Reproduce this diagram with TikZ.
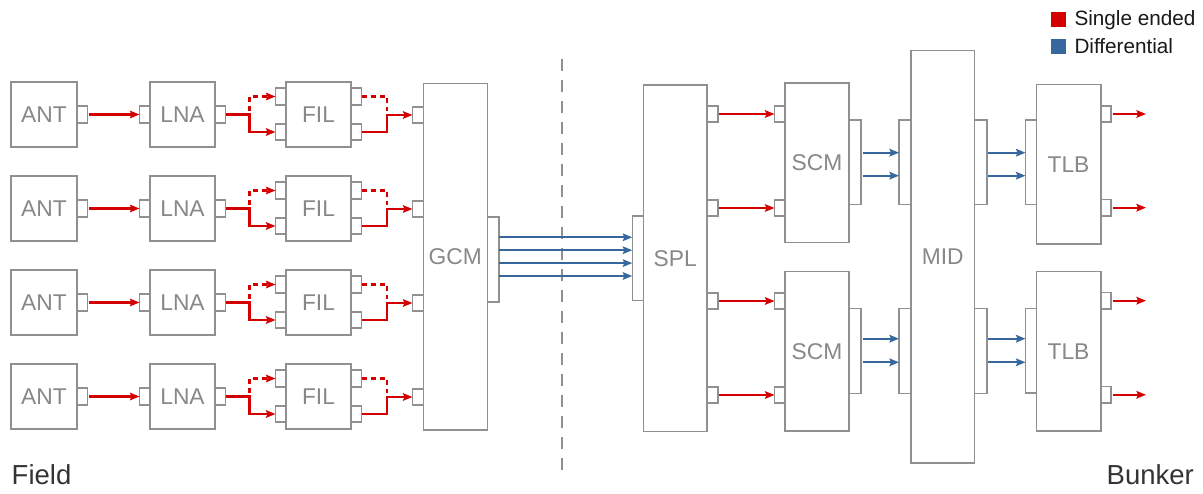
\documentclass[tikz,border=0pt]{standalone}
\usepackage{fontspec}
\setmainfont{Liberation Sans}
\usetikzlibrary{arrows.meta,calc}
\definecolor{sered}{HTML}{D40000}
\definecolor{dfblue}{HTML}{36689E}
\definecolor{boxgray}{HTML}{909090}
\definecolor{txtgray}{HTML}{888888}
\definecolor{dark}{HTML}{333333}
\begin{document}
\begin{tikzpicture}[x=1pt,y=-1pt,
  blk/.style={draw=boxgray, line width=1.6pt, fill=white, inner sep=0pt, outer sep=0pt,
    text=txtgray, font=\fontsize{22.8}{24}\selectfont},
  prt/.style={draw=boxgray, line width=1.6pt, fill=white, inner sep=0pt, outer sep=0pt,
    minimum width=10.5pt, minimum height=16.5pt},
  wprt/.style={draw=boxgray, line width=1.6pt, fill=white, inner sep=0pt, outer sep=0pt,
    minimum width=11.5pt, minimum height=84.5pt},
  tip/.style={-{Stealth[length=9.5pt,width=7.5pt,inset=1.5pt]}},
  sig/.style={draw=sered, line width=2.3pt, tip},
  sigd/.style={draw=sered, line width=2.3pt, dash pattern=on 5pt off 4pt},
  diff/.style={draw=dfblue, line width=2.3pt, tip},
  lgtext/.style={anchor=base west, inner sep=0pt, text=black!90, font=\fontsize{20.7}{22}\selectfont},
  side/.style={inner sep=0pt, text=dark, font=\fontsize{27.5}{29}\selectfont}
]
\useasboundingbox (0,0) rectangle (1203,494);

% separator
\coordinate (septop) at (561.7,59);
\coordinate (sepbot) at (561.7,472);
\draw[boxgray, line width=2.2pt, dash pattern=on 12pt off 9pt] (septop) -- (sepbot);

% GCM
\node[blk, minimum width=64pt, minimum height=346.7pt] (gcm) at (455.3,256.7) {GCM};
\node[wprt, minimum width=11.7pt] (gcmo) at (493.15,259.5) {};

% field rows
\foreach \i in {0,1,2,3}{
  \pgfmathsetmacro{\t}{82+94*\i}
  \pgfmathsetmacro{\c}{\t+32.5}
  \node[blk, minimum width=66pt, minimum height=65pt] (ant\i) at (44,\c) {ANT};
  \node[prt] (antp\i) at (82.25,\c) {};
  \node[blk, minimum width=65pt, minimum height=65pt] (lna\i) at (182.5,\c) {LNA};
  \node[prt] (lnai\i) at (144.75,\c) {};
  \node[prt] (lnao\i) at (220.25,\c) {};
  \node[blk, minimum width=65pt, minimum height=65pt] (fil\i) at (318.5,\c) {FIL};
  \node[prt] (filit\i) at (280.75,\t+14.5) {};
  \node[prt] (filib\i) at (280.75,\t+50) {};
  \node[prt] (filot\i) at (356.25,\t+14.5) {};
  \node[prt] (filob\i) at (356.25,\t+50) {};
  \node[prt, minimum width=10.8pt] (gcmi\i) at (417.9,\c+0.5) {};
  % connectors
  \draw[sig, shorten <=1.5pt] (antp\i.east) -- (lnai\i.west);
  \draw[sig] (lnao\i.east) -- ++(24,0) |- (filib\i.west);
  \draw[sigd, tip] ($(lnao\i.east)+(24,-3)$) |- (filit\i.west);
  \draw[sig] (filob\i.east) -| ($(gcmi\i.west)+(-25.5,0)$) -- (gcmi\i.west);
  \draw[sigd] (filot\i.east) -| ($(gcmi\i.west)+(-25.5,-4)$);
}

% SPL
\node[blk, minimum width=63.7pt, minimum height=346.7pt] (spl) at (675.2,258.3) {SPL};
\node[wprt, minimum width=11pt, minimum height=84.7pt] (spli) at (637.8,258.3) {};
\foreach \y [count=\k] in {237.3,250.2,263.1,276}{
  \draw[diff] (gcmo.east |- 0,\y) -- (spli.west |- 0,\y);
}

% SCM
\node[blk, minimum width=64pt, minimum height=159.4pt] (scm1) at (817,163) {SCM};
\node[blk, minimum width=64pt, minimum height=159.4pt] (scm2) at (817,351.3) {SCM};
\node[wprt, minimum width=12pt, minimum height=84.7pt] (scmo1) at (855,162.3) {};
\node[wprt, minimum width=12pt, minimum height=84.7pt] (scmo2) at (855,351) {};

% SPL outputs -> SCM inputs
\foreach \y [count=\k] in {114,208,301,395}{
  \node[prt] (splo\k) at (712.5,\y) {};
  \node[prt] (scmi\k) at (779.75,\y) {};
  \draw[sig, shorten <=1.5pt] (splo\k.east) -- (scmi\k.west);
}

% MID
\node[blk, minimum width=63.5pt, minimum height=412pt] (mid) at (942.75,256.7) {MID};
\node[wprt, minimum width=12pt, minimum height=84.7pt] (midi1) at (905,162.3) {};
\node[wprt, minimum width=12pt, minimum height=84.7pt] (midi2) at (905,351) {};
\node[wprt, minimum width=12.2pt, minimum height=84.7pt] (mido1) at (980.6,162.3) {};
\node[wprt, minimum width=12.2pt, minimum height=84.7pt] (mido2) at (980.6,351) {};

% TLB
\node[blk, minimum width=64.4pt, minimum height=159.6pt] (tlb1) at (1068.5,164.5) {TLB};
\node[blk, minimum width=64.4pt, minimum height=159.6pt] (tlb2) at (1068.5,351.5) {TLB};
\node[wprt, minimum width=10.8pt, minimum height=84.4pt] (tlbi1) at (1030.9,162.5) {};
\node[wprt, minimum width=10.8pt, minimum height=84.6pt] (tlbi2) at (1030.9,351) {};

\foreach \y in {152.7,175.7}{
  \draw[diff, shorten <=1.5pt] (scmo1.east |- 0,\y) -- (midi1.west |- 0,\y);
  \draw[diff, shorten <=1.5pt] (mido1.east |- 0,\y) -- (tlbi1.west |- 0,\y);
}
\foreach \y in {338.7,362.3}{
  \draw[diff, shorten <=1.5pt] (scmo2.east |- 0,\y) -- (midi2.west |- 0,\y);
  \draw[diff, shorten <=1.5pt] (mido2.east |- 0,\y) -- (tlbi2.west |- 0,\y);
}

% TLB outputs
\foreach \y [count=\k] in {114,207.7,300.7,394.8}{
  \node[prt, minimum width=10pt] (tlbo\k) at (1105.7,\y) {};
  \coordinate (out\k) at (1146,\y);
  \draw[sig, shorten <=2pt] (tlbo\k.east) -- (out\k);
}

% legend
\node[fill=sered, minimum size=14.5pt, inner sep=0pt] (lgse) at (1058.4,19.5) {};
\node[fill=dfblue, minimum size=14.5pt, inner sep=0pt] (lgdf) at (1058.4,46.6) {};
\node[lgtext] (lgset) at (1074.3,26) {Single ended};
\node[lgtext] (lgdft) at (1074.3,53.4) {Differential};

% side labels
\node[side, anchor=base west] (field) at (11.5,484) {Field};
\node[side, anchor=base east] (bunker) at (1194,484) {Bunker};
\end{tikzpicture}
\end{document}
